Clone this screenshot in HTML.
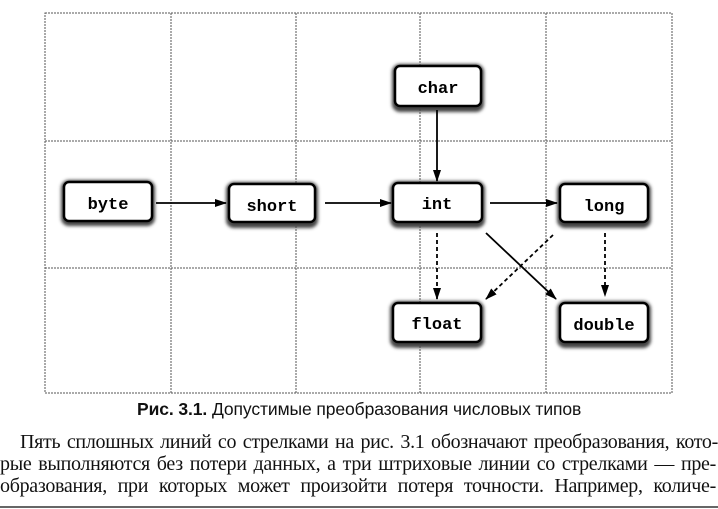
<!DOCTYPE html>
<html><head><meta charset="utf-8"><style>
body{margin:0;width:718px;height:509px;background:#fff;overflow:hidden;position:relative}
.t{position:absolute;font-family:"Liberation Serif",serif;font-size:20px;white-space:nowrap;color:#111;letter-spacing:-0.3px}
</style></head><body>
<svg width="718" height="400" style="position:absolute;left:0;top:0">
<defs>
<marker id="a" markerWidth="12" markerHeight="8" refX="11" refY="4" orient="auto" markerUnits="userSpaceOnUse"><path d="M0,0 L12,4 L0,8 z" fill="#000"/></marker>
<filter id="f" x="-20%" y="-30%" width="140%" height="160%"><feGaussianBlur stdDeviation="1.6"/></filter>
</defs>
<g stroke="#555" stroke-width="1" stroke-dasharray="2,1" fill="none">
<rect x="45" y="13" width="627" height="380"/>
<line x1="171" y1="13" x2="171" y2="393"/><line x1="296" y1="13" x2="296" y2="393"/>
<line x1="420" y1="13" x2="420" y2="393"/><line x1="546" y1="13" x2="546" y2="393"/>
<line x1="45" y1="141" x2="672" y2="141"/><line x1="45" y1="268" x2="672" y2="268"/>
</g>
<g font-family="Liberation Mono,monospace" font-size="17" font-weight="bold" text-anchor="middle">
<rect x="61" y="180" width="94" height="46" rx="8" fill="#444" filter="url(#f)"/>
<rect x="64" y="182" width="88" height="39" rx="5" fill="#fff" stroke="#000" stroke-width="2.5"/>
<text x="108" y="209">byte</text>
<rect x="226" y="182" width="92" height="46" rx="8" fill="#444" filter="url(#f)"/>
<rect x="229" y="184" width="86" height="38" rx="5" fill="#fff" stroke="#000" stroke-width="2.5"/>
<text x="272" y="211">short</text>
<rect x="390" y="181" width="95" height="47" rx="8" fill="#444" filter="url(#f)"/>
<rect x="393" y="183" width="89" height="39" rx="5" fill="#fff" stroke="#000" stroke-width="2.5"/>
<text x="437" y="209">int</text>
<rect x="557" y="182" width="94" height="46" rx="8" fill="#444" filter="url(#f)"/>
<rect x="560" y="184" width="88" height="38" rx="5" fill="#fff" stroke="#000" stroke-width="2.5"/>
<text x="604" y="211">long</text>
<rect x="390" y="301" width="94" height="47" rx="8" fill="#444" filter="url(#f)"/>
<rect x="393" y="303" width="88" height="39" rx="5" fill="#fff" stroke="#000" stroke-width="2.5"/>
<text x="437" y="329">float</text>
<rect x="557" y="301" width="94" height="47" rx="8" fill="#444" filter="url(#f)"/>
<rect x="560" y="303" width="88" height="39" rx="5" fill="#fff" stroke="#000" stroke-width="2.5"/>
<text x="604" y="330">double</text>
<rect x="392" y="64" width="92" height="48" rx="8" fill="#444" filter="url(#f)"/>
<rect x="395" y="66" width="86" height="40" rx="5" fill="#fff" stroke="#000" stroke-width="2.5"/>
<text x="438" y="93">char</text>
</g>
<g stroke="#000" stroke-width="1.8" fill="none">
<line x1="156" y1="203" x2="226" y2="203" marker-end="url(#a)"/>
<line x1="325" y1="203" x2="391" y2="203" marker-end="url(#a)"/>
<line x1="437" y1="110" x2="437" y2="181" marker-end="url(#a)"/>
<line x1="490" y1="203" x2="557" y2="203" marker-end="url(#a)"/>
<line x1="486" y1="233" x2="556" y2="299" marker-end="url(#a)"/>
<g stroke-dasharray="4,3">
<line x1="437" y1="233" x2="437" y2="299" marker-end="url(#a)"/>
<line x1="553" y1="235" x2="486" y2="299" marker-end="url(#a)"/>
<line x1="605" y1="233" x2="605" y2="296" marker-end="url(#a)"/>
</g>
</g>
</svg>
<div style="position:absolute;left:137px;top:399px;font-family:'Liberation Sans',sans-serif;font-size:17.5px;color:#111;white-space:nowrap;letter-spacing:-0.1px"><b>Рис. 3.1.</b> Допустимые преобразования числовых типов</div>
<div class="t" style="left:20px;top:431px;width:698px;text-align:justify;text-align-last:justify">Пять сплошных линий со стрелками на рис. 3.1 обозначают преобразования, кото-</div>
<div class="t" style="left:0;top:453px;width:716px;text-align:justify;text-align-last:justify">рые выполняются без потери данных, а три штриховые линии со стрелками — пре-</div>
<div class="t" style="left:0;top:475px;width:716px;text-align:justify;text-align-last:justify">образования, при которых может произойти потеря точности. Например, количе-</div>
<div style="position:absolute;left:0;top:506px;width:718px;height:2px;background:#666"></div>
</body></html>
